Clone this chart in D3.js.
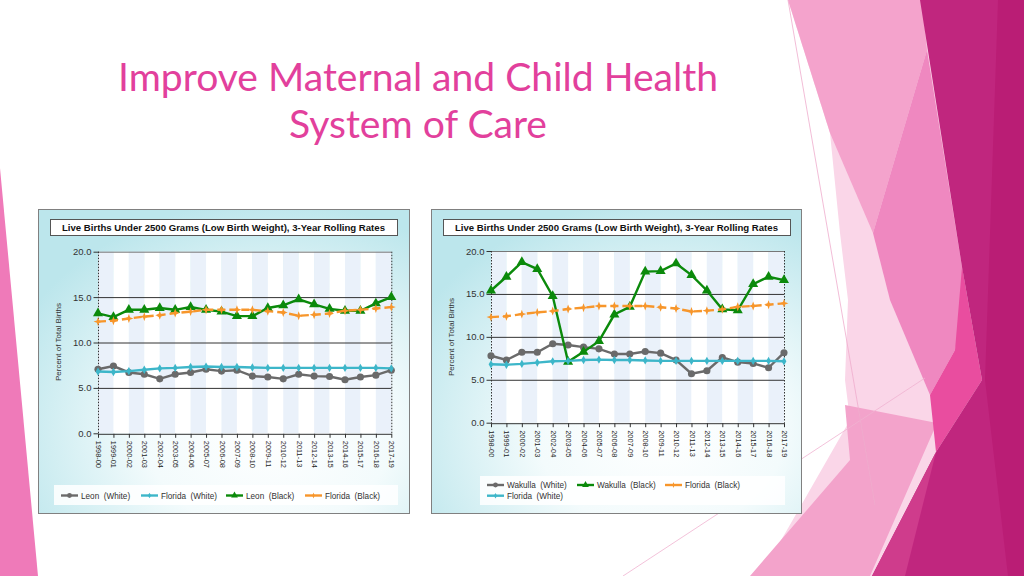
<!DOCTYPE html>
<html><head><meta charset="utf-8">
<script src="https://cdn.jsdelivr.net/npm/d3@7"></script>
<style>html,body{margin:0;padding:0;background:#fff;overflow:hidden}</style>
</head><body>
<svg id="c" width="1024" height="576"></svg>
<script>
// ---------- data ----------
const categories = ["1998-00","1999-01","2000-02","2001-03","2002-04","2003-05","2004-06","2005-07","2006-08","2007-09",
  "2008-10","2009-11","2010-12","2011-13","2012-14","2013-15","2014-16","2015-17","2016-18","2017-19"];
const yTicks = [0, 5, 10, 15, 20];
const yTickLabels = ["0.0","5.0","10.0","15.0","20.0"];
const leonWhite    = [7.05,7.4,6.7,6.5,6.0,6.5,6.7,7.05,6.85,6.95,6.3,6.2,6.0,6.5,6.3,6.25,5.9,6.2,6.4,6.95];
const floridaWhite = [6.8,6.75,6.85,7.0,7.15,7.2,7.3,7.35,7.3,7.3,7.25,7.2,7.2,7.2,7.2,7.2,7.2,7.2,7.2,7.15];
const leonBlack    = [13.2,12.8,13.6,13.6,13.8,13.6,13.9,13.6,13.4,12.9,12.9,13.8,14.1,14.75,14.2,13.7,13.5,13.5,14.3,15.0];
const floridaBlack = [12.3,12.4,12.65,12.85,13.0,13.25,13.4,13.6,13.6,13.6,13.6,13.45,13.3,12.95,13.05,13.2,13.5,13.6,13.75,13.9];
const wakullaWhite = [7.8,7.3,8.2,8.2,9.2,9.05,8.8,8.6,8.0,8.0,8.3,8.1,7.3,5.7,6.05,7.6,7.05,6.9,6.4,8.15];
const wakullaBlack = [15.4,17.0,18.7,17.9,14.75,7.1,8.25,9.5,12.6,13.5,17.6,17.65,18.55,17.2,15.4,13.2,13.1,16.15,17.0,16.6];
const pageTitle = ["Improve Maternal and Child Health", "System of Care"];
const chartTitle = "Live Births Under 2500 Grams (Low Birth Weight), 3-Year Rolling Rates";
const yAxisTitle = "Percent of Total Births";

// ---------- styles ----------
const star4 = {
  draw(ctx, size) {
    const r = Math.sqrt(size) * 0.62, ri = r * 0.38;
    for (let k = 0; k < 8; k++) {
      const a = k * Math.PI / 4 - Math.PI / 2, rr = k % 2 ? ri : r;
      const px = rr * Math.cos(a), py = rr * Math.sin(a);
      k ? ctx.lineTo(px, py) : ctx.moveTo(px, py);
    }
    ctx.closePath();
  }
};
const GRAY="#6a6a6a", TEAL="#3db6c9", GREEN="#0b8a0b", ORANGE="#f7962b";
const styleWhiteCounty = {color:GRAY, symbol:d3.symbolCircle, size:40, dash:null};
const styleFlWhite = {color:TEAL, symbol:d3.symbolDiamond, size:20, dash:null};
const styleBlackCounty = {color:GREEN, symbol:d3.symbolTriangle, size:44, dash:null};
const styleFlBlack = {color:ORANGE, symbol:star4, size:52, dash:"8,4"};

const svg = d3.select("#c");
const defs = svg.append("defs");

// ---------- background decoration ----------
const bg = svg.append("g");
const polys = [
  {c:"#fad6e8", p:[[788,0],[1024,0],[1024,576],[760,576],[787,530],[850,420],[845,380],[848,300],[840,233],[830,133]]},
  {c:"#f4a3cc", p:[[788,0],[922,0],[927,50],[873,233],[830,133]]},
  {c:"#ef88c0", p:[[927,50],[962,267],[967,300],[955,350],[930,395],[890,300],[873,233]]},
  {c:"#f3a3cb", p:[[750,576],[850,460],[845,405],[937,423],[870,576]]},
  {c:"#e94d9f", p:[[962,267],[982,380],[936,452],[930,395],[955,350]]},
  {c:"#c0267e", p:[[920,0],[1024,0],[1024,576],[872,576],[936,452],[982,380],[962,267]]},
  {c:"#ba1d75", p:[[998,0],[1024,0],[1024,576],[1008,576],[985,380]]},
  {c:"#cf3c8c", p:[[936,452],[872,576],[905,576]]},
  {c:"#ef7ab9", p:[[0,168],[38,576],[0,576]]}
];
bg.selectAll("polygon").data(polys).join("polygon")
  .attr("points", d => d.p.map(q => q.join(",")).join(" "))
  .attr("fill", d => d.c);
bg.append("line").attr("x1",623).attr("y1",576).attr("x2",925).attr("y2",378).attr("stroke","#f0b2d0").attr("stroke-width",0.8);
bg.append("line").attr("x1",788).attr("y1",0).attr("x2",875).attr("y2",505).attr("stroke","#efaccd").attr("stroke-width",0.8);

// ---------- page title ----------
const tg = svg.append("g").attr("fill","#e2409c").style("font-family","Lato, 'Open Sans', sans-serif").style("font-size","38px");
tg.append("text").attr("x",418).attr("y",91).attr("text-anchor","middle")
  .attr("textLength",600).attr("lengthAdjust","spacingAndGlyphs").text(pageTitle[0]);
tg.append("text").attr("x",418).attr("y",138).attr("text-anchor","middle")
  .attr("textLength",258).attr("lengthAdjust","spacingAndGlyphs").text(pageTitle[1]);

// ---------- chart builder ----------
function drawChart(cfg, idx) {
  const g = svg.append("g").style("font-family","'Liberation Sans', Arial, sans-serif");
  const gid = "pg"+idx;
  const rg = defs.append("radialGradient").attr("id",gid).attr("cx","62%").attr("cy","72%").attr("r","75%");
  rg.append("stop").attr("offset","0%").attr("stop-color","#ffffff");
  rg.append("stop").attr("offset","45%").attr("stop-color","#f3fbfc");
  rg.append("stop").attr("offset","100%").attr("stop-color","#bce6ec");
  const P = cfg.panel;
  g.append("rect").attr("x",P[0]+0.5).attr("y",P[1]+0.5).attr("width",P[2]-P[0]).attr("height",P[3]-P[1])
    .attr("fill",`url(#${gid})`).attr("stroke","#808080").attr("stroke-width",1);
  const T = cfg.titleBox;
  g.append("rect").attr("x",T[0]+0.5).attr("y",T[1]+0.5).attr("width",T[2]-T[0]).attr("height",T[3]-T[1])
    .attr("fill","#fff").attr("stroke","#555");
  g.append("text").attr("x",(T[0]+T[2])/2).attr("y",T[3]-4.5).attr("text-anchor","middle")
    .style("font-size","9.5px").style("font-weight","bold").attr("fill","#111")
    .attr("textLength",T[2]-T[0]-24).attr("lengthAdjust","spacingAndGlyphs").text(chartTitle);

  const x = d3.scalePoint().domain(categories).range([cfg.x0, cfg.x1]);
  const y = d3.scaleLinear().domain([0,20]).range([cfg.y0, cfg.y1]);
  const step = x.step();
  g.append("g").selectAll("rect").data(categories.slice(0,-1)).join("rect")
    .attr("x", d => x(d)).attr("y", y(20)).attr("width", step).attr("height", y(0)-y(20))
    .attr("fill", (d,i) => i%2===0 ? "#eaf1fa" : "#ffffff");
  g.append("g").selectAll("line").data(yTicks.slice(1)).join("line")
    .attr("x1", cfg.x0).attr("x2", cfg.x1).attr("y1", d => y(d)+0.5).attr("y2", d => y(d)+0.5)
    .attr("stroke", d => d===20 ? "#777" : "#333").attr("stroke-width",1);
  [cfg.x0, cfg.x1].forEach(xx => g.append("line").attr("x1",xx+0.5).attr("x2",xx+0.5).attr("y1",y(20)).attr("y2",y(0))
    .attr("stroke","#333").attr("stroke-dasharray","1.5,1.5"));
  const ya = d3.axisLeft(y).tickValues(yTicks).tickSize(5).tickPadding(2)
    .tickFormat((d,i) => yTickLabels[i]);
  const yg = g.append("g").attr("transform",`translate(${cfg.x0+0.5},0)`).call(ya);
  yg.select(".domain").remove();
  yg.selectAll(".tick line").attr("stroke","#333");
  yg.selectAll(".tick text").style("font-size","9.5px").attr("fill","#333").style("font-family","'Liberation Sans', Arial, sans-serif");
  const xa = d3.axisBottom(x).tickSize(4).tickSizeOuter(0);
  const xg = g.append("g").attr("transform",`translate(0,${cfg.y0+0.5})`).call(xa);
  xg.select(".domain").attr("stroke","#333");
  xg.selectAll(".tick line").attr("stroke","#333");
  xg.selectAll(".tick text").style("font-size","7.4px").attr("fill","#222")
    .style("font-family","'Liberation Sans', Arial, sans-serif")
    .attr("transform","rotate(90)").attr("text-anchor","start").attr("dy","0.33em").attr("x",7).attr("y",0);
  g.append("text").attr("transform",`translate(${cfg.ytx},${cfg.yty}) rotate(-90)`).attr("text-anchor","middle")
    .style("font-size","8px").attr("fill","#333").text(yAxisTitle);

  const line = d3.line().x((d,i) => x(categories[i])).y(d => y(d));
  cfg.series.forEach(s => {
    const sg = g.append("g");
    sg.append("path").attr("d", line(s.values)).attr("fill","none").attr("stroke", s.style.color)
      .attr("stroke-width", 2.4).attr("stroke-dasharray", s.style.dash);
    sg.selectAll("path.m").data(s.values).join("path").attr("class","m")
      .attr("transform", (d,i) => `translate(${x(categories[i])},${y(d)})`)
      .attr("d", d3.symbol().type(s.style.symbol).size(s.style.size)).attr("fill", s.style.color);
  });

  const L = cfg.legendBox;
  g.append("rect").attr("x",L[0]).attr("y",L[1]).attr("width",L[2]-L[0]).attr("height",L[3]-L[1])
    .attr("fill","#ffffff").attr("opacity",0.85);
  cfg.series.forEach(s => {
    const [lx, ly] = s.legend;
    g.append("line").attr("x1",lx).attr("x2",lx+17).attr("y1",ly).attr("y2",ly)
      .attr("stroke", s.style.color).attr("stroke-width",2.4);
    g.append("path").attr("transform",`translate(${lx+8.5},${ly})`)
      .attr("d", d3.symbol().type(s.style.symbol).size(s.style.size*0.45)).attr("fill", s.style.color);
    g.append("text").attr("x",lx+20).attr("y",ly+3).style("font-size","8.2px").attr("fill","#333")
      .style("white-space","pre").text(s.name);
  });
}

drawChart({
  panel:[38,209,409,513], titleBox:[50,219,397,235],
  x0:98, x1:391.3, y0:433.3, y1:251.7, ytx:61, yty:342,
  legendBox:[54,485,398,505],
  series:[
    {name:"Leon  (White)", values:leonWhite, style:styleWhiteCounty, legend:[61,495.5]},
    {name:"Florida  (White)", values:floridaWhite, style:styleFlWhite, legend:[141,495.5]},
    {name:"Leon  (Black)", values:leonBlack, style:styleBlackCounty, legend:[226,495.5]},
    {name:"Florida  (Black)", values:floridaBlack, style:styleFlBlack, legend:[305,495.5]}
  ]
}, 0);

drawChart({
  panel:[431,209,801,513], titleBox:[443,219,790,235],
  x0:491, x1:784, y0:422.7, y1:251, ytx:454, yty:337,
  legendBox:[480,476,785,505],
  series:[
    {name:"Wakulla  (White)", values:wakullaWhite, style:styleWhiteCounty, legend:[487,485]},
    {name:"Wakulla  (Black)", values:wakullaBlack, style:styleBlackCounty, legend:[577,485]},
    {name:"Florida  (Black)", values:floridaBlack, style:styleFlBlack, legend:[665,485]},
    {name:"Florida  (White)", values:floridaWhite, style:styleFlWhite, legend:[487,495.7]}
  ]
}, 1);
</script>
</body></html>
